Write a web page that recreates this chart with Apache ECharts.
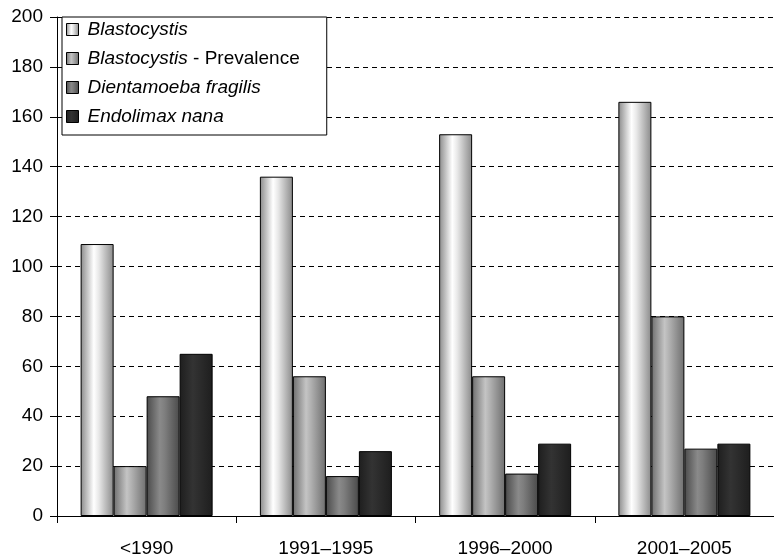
<!DOCTYPE html>
<html>
<head>
<meta charset="utf-8">
<script src="https://cdn.jsdelivr.net/npm/echarts@6/dist/echarts.min.js"></script>
<style>
  html, body { margin: 0; padding: 0; background: #fff; }
  #chart { width: 774px; height: 560px; }
</style>
</head>
<body>
<div id="chart"></div>
<script>
// Periods on the category axis
var periods = ['<1990', '1991\u20131995', '1996\u20132000', '2001\u20132005'];

// Series values per period
var blastocystis = [109, 136, 153, 166];
var blastoPrevalence = [20, 56, 56, 80];
var dientamoeba = [48, 16, 17, 27];
var endolimax = [65, 26, 29, 29];

var seriesNames = ['Blastocystis', 'Blastocystis - Prevalence', 'Dientamoeba fragilis', 'Endolimax nana'];

var FONT = 'Liberation Sans, Arial, Helvetica, sans-serif';

// Horizontal "cylinder" shading: edge, highlight, edge
function shade(edge, mid, light) {
  return new echarts.graphic.LinearGradient(0, 0, 1, 0, [
    { offset: 0, color: edge },
    { offset: 0.4, color: light },
    { offset: 0.55, color: mid },
    { offset: 1, color: edge }
  ]);
}

var fills = [
  shade('#8a8a8a', '#e8e8e8', '#ffffff'),
  shade('#6e6e6e', '#b0b0b0', '#c4c4c4'),
  shade('#4a4a4a', '#7e7e7e', '#8a8a8a'),
  shade('#1e1e1e', '#2e2e2e', '#333333')
];

var dataSets = [blastocystis, blastoPrevalence, dientamoeba, endolimax];

var series = dataSets.map(function (d, i) {
  return {
    name: seriesNames[i],
    type: 'bar',
    data: d,
    barWidth: 33,
    barGap: '0%',
    itemStyle: { color: fills[i], borderColor: '#000', borderWidth: 1 }
  };
});

var chart = echarts.init(document.getElementById('chart'));
chart.setOption({
  animation: false,
  textStyle: { fontFamily: FONT },
  grid: { left: 57, right: 0, top: 17, bottom: 44 },
  legend: {
    left: 62, top: 17,
    orient: 'vertical',
    backgroundColor: '#fff',
    borderColor: '#000',
    borderWidth: 1,
    borderRadius: 0,
    padding: [3, 27, 9, 4],
    itemWidth: 12, itemHeight: 12,
    itemGap: 10,
    icon: 'rect',
    itemStyle: { borderColor: '#000', borderWidth: 1 },
    formatter: function (name) {
      if (name === 'Blastocystis - Prevalence') return '{i|Blastocystis}{n| - Prevalence}';
      return '{i|' + name + '}';
    },
    textStyle: {
      color: '#000', fontSize: 19,
      rich: {
        i: { fontStyle: 'italic', fontSize: 19, color: '#000', fontFamily: FONT, height: 20, padding: [0, 0, 0, 4] },
        n: { fontSize: 19, color: '#000', fontFamily: FONT, height: 20 }
      }
    },
    data: seriesNames
  },
  xAxis: {
    type: 'category',
    data: periods,
    axisLine: { lineStyle: { color: '#000', width: 1 } },
    axisTick: { show: true, length: 7, lineStyle: { color: '#000' } },
    axisLabel: { color: '#000', fontSize: 19, margin: 23 }
  },
  yAxis: {
    type: 'value',
    min: 0, max: 200, interval: 20,
    axisLine: { show: true, lineStyle: { color: '#000', width: 1 } },
    axisTick: { show: true, length: 7, lineStyle: { color: '#000' } },
    axisLabel: { color: '#000', fontSize: 19, margin: 14 },
    splitLine: { show: true, lineStyle: { color: '#000', type: [5, 4], width: 1 } }
  },
  series: series
});
</script>
</body>
</html>
